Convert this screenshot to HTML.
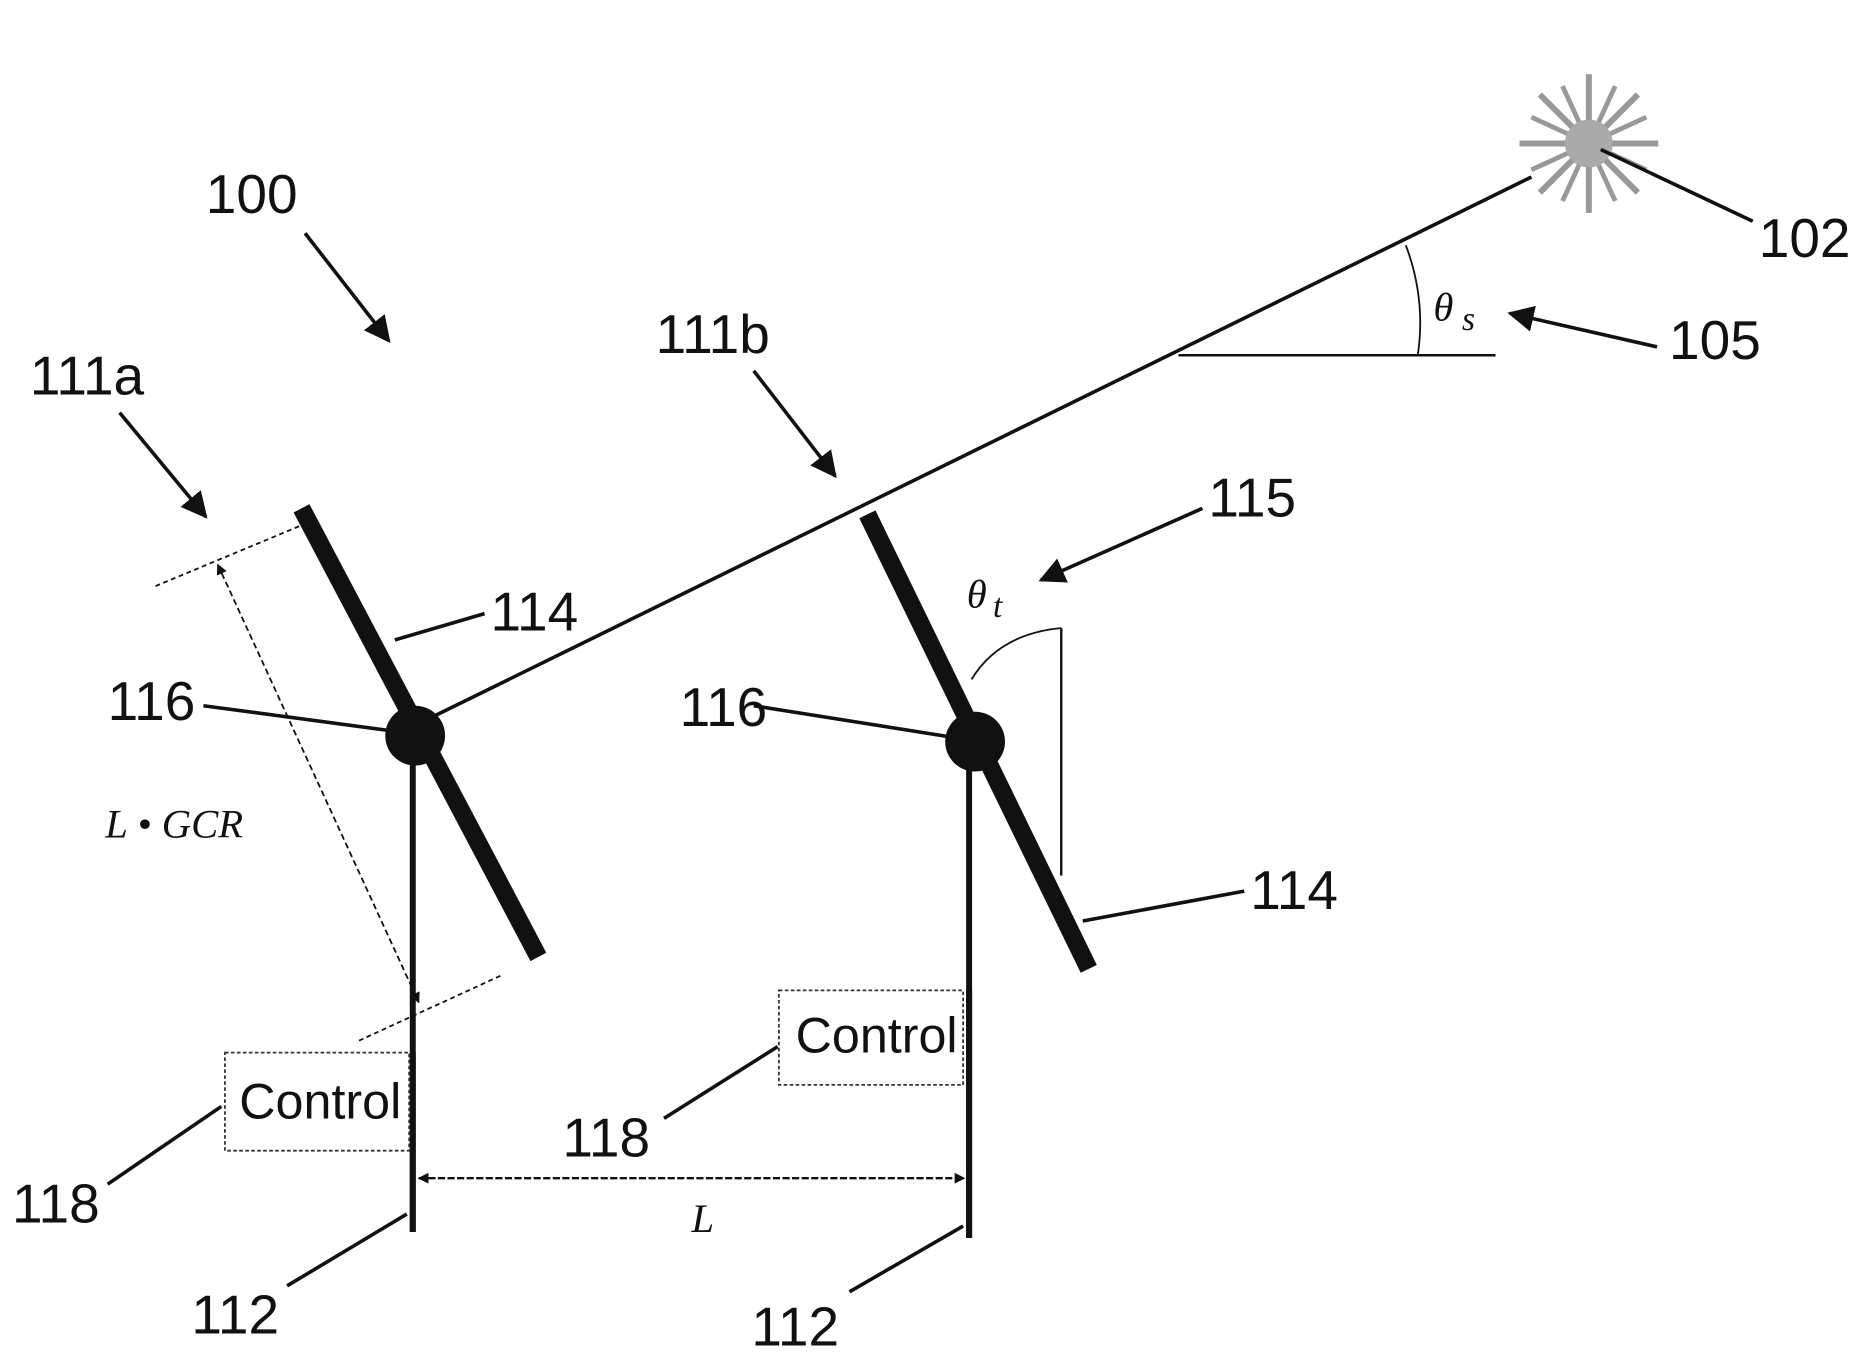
<!DOCTYPE html>
<html><head><meta charset="utf-8"><style>
html,body{margin:0;padding:0;background:#fff;}
svg{display:block;}
text{font-family:"Liberation Sans",sans-serif;fill:#111;}
.it{font-family:"Liberation Serif",serif;font-style:italic;}
</style></head><body>
<svg width="1876" height="1360" viewBox="0 0 1568 1137" preserveAspectRatio="none" xmlns="http://www.w3.org/2000/svg">
<defs>
<marker id="ah" viewBox="0 0 10 10" refX="9" refY="5" markerWidth="9" markerHeight="9" orient="auto-start-reverse" markerUnits="userSpaceOnUse"><path d="M0,0 L10,5 L0,10 z" fill="#111"/></marker>
<marker id="ab" viewBox="0 0 10 10" refX="9" refY="5" markerWidth="22" markerHeight="22" orient="auto" markerUnits="userSpaceOnUse"><path d="M0,0 L10,5 L0,10 z" fill="#111"/></marker>
</defs>
<rect width="1568" height="1137" fill="#fff"/>
<!-- sun -->
<g stroke="#999" stroke-width="5">
<line x1="1328" y1="62" x2="1328" y2="178"/>
<line x1="1270" y1="120" x2="1386" y2="120"/>
<line x1="1287" y1="79" x2="1369" y2="161"/>
<line x1="1287" y1="161" x2="1369" y2="79"/>
<line x1="1306" y1="72" x2="1350" y2="168" stroke-width="4"/>
<line x1="1350" y1="72" x2="1306" y2="168" stroke-width="4"/>
<line x1="1280" y1="98" x2="1376" y2="142" stroke-width="4"/>
<line x1="1280" y1="142" x2="1376" y2="98" stroke-width="4"/>
</g>
<circle cx="1328" cy="120" r="20" fill="#aaa"/>
<line x1="1338" y1="125" x2="1465" y2="185" stroke="#111" stroke-width="3"/>
<text x="1470" y="215" font-size="46">102</text>
<!-- sun ray -->
<line x1="350" y1="605" x2="1280" y2="148" stroke="#111" stroke-width="3"/>
<line x1="985" y1="297" x2="1250" y2="297" stroke="#111" stroke-width="2"/>
<path d="M1175,205 Q1192,250 1185,297" fill="none" stroke="#111" stroke-width="1.5"/>
<text x="1198" y="268" font-size="34" class="it">θ</text><text x="1222" y="276" font-size="28" class="it">s</text>
<line x1="1385" y1="290" x2="1262" y2="262" stroke="#111" stroke-width="3" marker-end="url(#ab)"/>
<text x="1395" y="300" font-size="46">105</text>
<!-- reference labels -->
<text x="172" y="178" font-size="46">100</text>
<line x1="255" y1="195" x2="325" y2="285" stroke="#111" stroke-width="3" marker-end="url(#ab)"/>
<text x="25" y="330" font-size="46">111a</text>
<line x1="100" y1="345" x2="172" y2="432" stroke="#111" stroke-width="3" marker-end="url(#ab)"/>
<text x="548" y="295" font-size="46">111b</text>
<line x1="630" y1="310" x2="698" y2="398" stroke="#111" stroke-width="3" marker-end="url(#ab)"/>
<!-- posts -->
<line x1="345" y1="615" x2="345" y2="1030" stroke="#111" stroke-width="5"/>
<line x1="810" y1="620" x2="810" y2="1035" stroke="#111" stroke-width="5"/>
<!-- panels -->
<line x1="252" y1="425" x2="450" y2="800" stroke="#111" stroke-width="15"/>
<line x1="725" y1="430" x2="910" y2="810" stroke="#111" stroke-width="15"/>
<circle cx="347" cy="615" r="25" fill="#111"/>
<circle cx="815" cy="620" r="25" fill="#111"/>
<!-- 114 -->
<line x1="330" y1="535" x2="405" y2="513" stroke="#111" stroke-width="3"/>
<text x="410" y="527" font-size="46">114</text>
<line x1="905" y1="770" x2="1040" y2="745" stroke="#111" stroke-width="3"/>
<text x="1045" y="760" font-size="46">114</text>
<!-- 116 -->
<line x1="170" y1="590" x2="335" y2="612" stroke="#111" stroke-width="3"/>
<text x="90" y="602" font-size="46">116</text>
<line x1="630" y1="590" x2="800" y2="617" stroke="#111" stroke-width="3"/>
<text x="568" y="607" font-size="46">116</text>
<!-- theta t -->
<line x1="887" y1="525" x2="887" y2="732" stroke="#111" stroke-width="2"/>
<path d="M812,568 Q835,530 887,525" fill="none" stroke="#111" stroke-width="1.5"/>
<text x="808" y="508" font-size="34" class="it">θ</text><text x="830" y="516" font-size="28" class="it">t</text>
<line x1="1005" y1="425" x2="870" y2="485" stroke="#111" stroke-width="3" marker-end="url(#ab)"/>
<text x="1010" y="432" font-size="46">115</text>
<!-- L*GCR -->
<line x1="130" y1="490" x2="250" y2="440" stroke="#111" stroke-width="1.5" stroke-dasharray="4,3"/>
<line x1="300" y1="870" x2="420" y2="815" stroke="#111" stroke-width="1.5" stroke-dasharray="4,3"/>
<line x1="182" y1="472" x2="350" y2="838" stroke="#111" stroke-width="1.5" stroke-dasharray="5,3" marker-start="url(#ah)" marker-end="url(#ah)"/>
<text x="88" y="700" font-size="34" class="it">L • GCR</text>
<!-- control boxes -->
<rect x="188" y="880" width="154" height="82" fill="#fff" stroke="#333" stroke-width="1.5" stroke-dasharray="3,2"/>
<text x="200" y="935" font-size="42">Control</text>
<rect x="651" y="828" width="154" height="79" fill="#fff" stroke="#333" stroke-width="1.5" stroke-dasharray="3,2"/>
<text x="665" y="880" font-size="42">Control</text>
<line x1="345" y1="880" x2="345" y2="1030" stroke="#111" stroke-width="5"/>
<line x1="810" y1="828" x2="810" y2="1035" stroke="#111" stroke-width="5"/>
<line x1="90" y1="990" x2="185" y2="925" stroke="#111" stroke-width="3"/>
<text x="10" y="1022" font-size="46">118</text>
<line x1="555" y1="935" x2="650" y2="875" stroke="#111" stroke-width="3"/>
<text x="470" y="967" font-size="46">118</text>
<!-- L dimension -->
<line x1="350" y1="985" x2="806" y2="985" stroke="#111" stroke-width="2" stroke-dasharray="6,2" marker-start="url(#ah)" marker-end="url(#ah)"/>
<text x="578" y="1030" font-size="34" class="it">L</text>
<!-- 112 -->
<line x1="240" y1="1075" x2="340" y2="1015" stroke="#111" stroke-width="3"/>
<text x="160" y="1115" font-size="46">112</text>
<line x1="710" y1="1080" x2="805" y2="1025" stroke="#111" stroke-width="3"/>
<text x="628" y="1125" font-size="46">112</text>
</svg>
</body></html>
